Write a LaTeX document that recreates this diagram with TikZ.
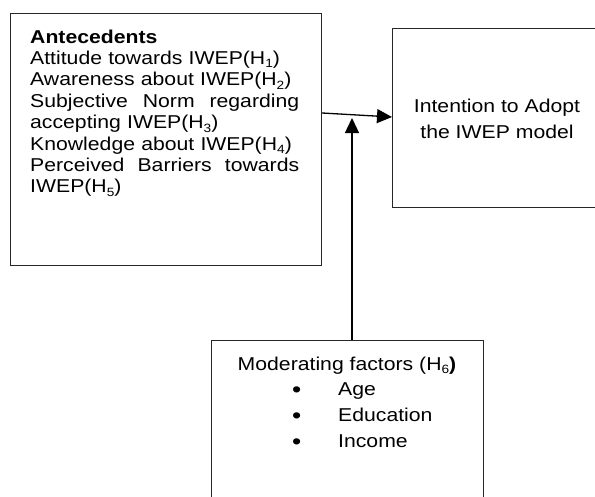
\documentclass[tikz,border=0pt]{standalone}
\usepackage{fontspec}
\setmainfont[FakeStretch=1.14]{Liberation Sans}
\usetikzlibrary{arrows.meta}
\newcommand{\subs}[1]{\raisebox{-0.18em}{\fontsize{12}{12}\selectfont #1}}
\newcommand{\bigbul}{\raisebox{-2pt}{\fontsize{23}{23}\selectfont •}}
\begin{document}
\begin{tikzpicture}[x=1pt,y=-1pt,
  box/.style={draw=black!85, line width=1.2pt, rectangle, inner sep=0pt},
  txt/.style={inner sep=0pt, font=\fontsize{18.6}{21.4}\selectfont},
  arr/.style={draw=black, line width=1.3pt, -{Triangle[length=15pt,width=14pt]}}]
\useasboundingbox (0,0) rectangle (595,496);
\clip (0,0) rectangle (595,496);
% boxes
\node[box, anchor=north west, minimum width=311pt, minimum height=252pt] (ante) at (10,13) {};
\node[box, anchor=north west, minimum width=220pt, minimum height=179pt] (intent) at (392,28) {};
\node[box, anchor=north west, minimum width=272pt, minimum height=170pt] (mod) at (211,340) {};
% left text
\node[txt, anchor=north west, align=left, text width=269pt] (antetext) at (30,29.5)
 {\textbf{Antecedents}\\
  Attitude towards IWEP(H\subs{1})\\
  Awareness about IWEP(H\subs{2})\\
  \makebox[269pt][l]{Subjective\hfill Norm\hfill regarding}\\
  accepting IWEP(H\subs{3})\\
  Knowledge about IWEP(H\subs{4})\\
  \makebox[269pt][l]{Perceived\hfill Barriers\hfill towards}\\
  IWEP(H\subs{5})};
% right text
\node[txt, anchor=north, align=center, font=\fontsize{18.6}{26}\selectfont] (intenttext) at (497,98.5)
 {Intention to Adopt\\the IWEP model};
% bottom text
\node[txt, anchor=base] (modtitle) at (347,370) {Moderating factors (H\subs{6}\textbf{)}};
\node[txt, anchor=base] (b1) at (296.7,395) {\bigbul};
\node[txt, anchor=base] (b2) at (296.7,421) {\bigbul};
\node[txt, anchor=base] (b3) at (296.7,447) {\bigbul};
\node[txt, anchor=base west] (age) at (338,395) {Age};
\node[txt, anchor=base west] (edu) at (338,421) {Education};
\node[txt, anchor=base west] (inc) at (338,447) {Income};
% connectors
\coordinate (mj) at (352,118);
\draw[arr] (ante.east |- 0,113) -- (intent.west |- 0,117);
\draw[arr] (mod.north -| mj) -- (mj);
\end{tikzpicture}
\end{document}
